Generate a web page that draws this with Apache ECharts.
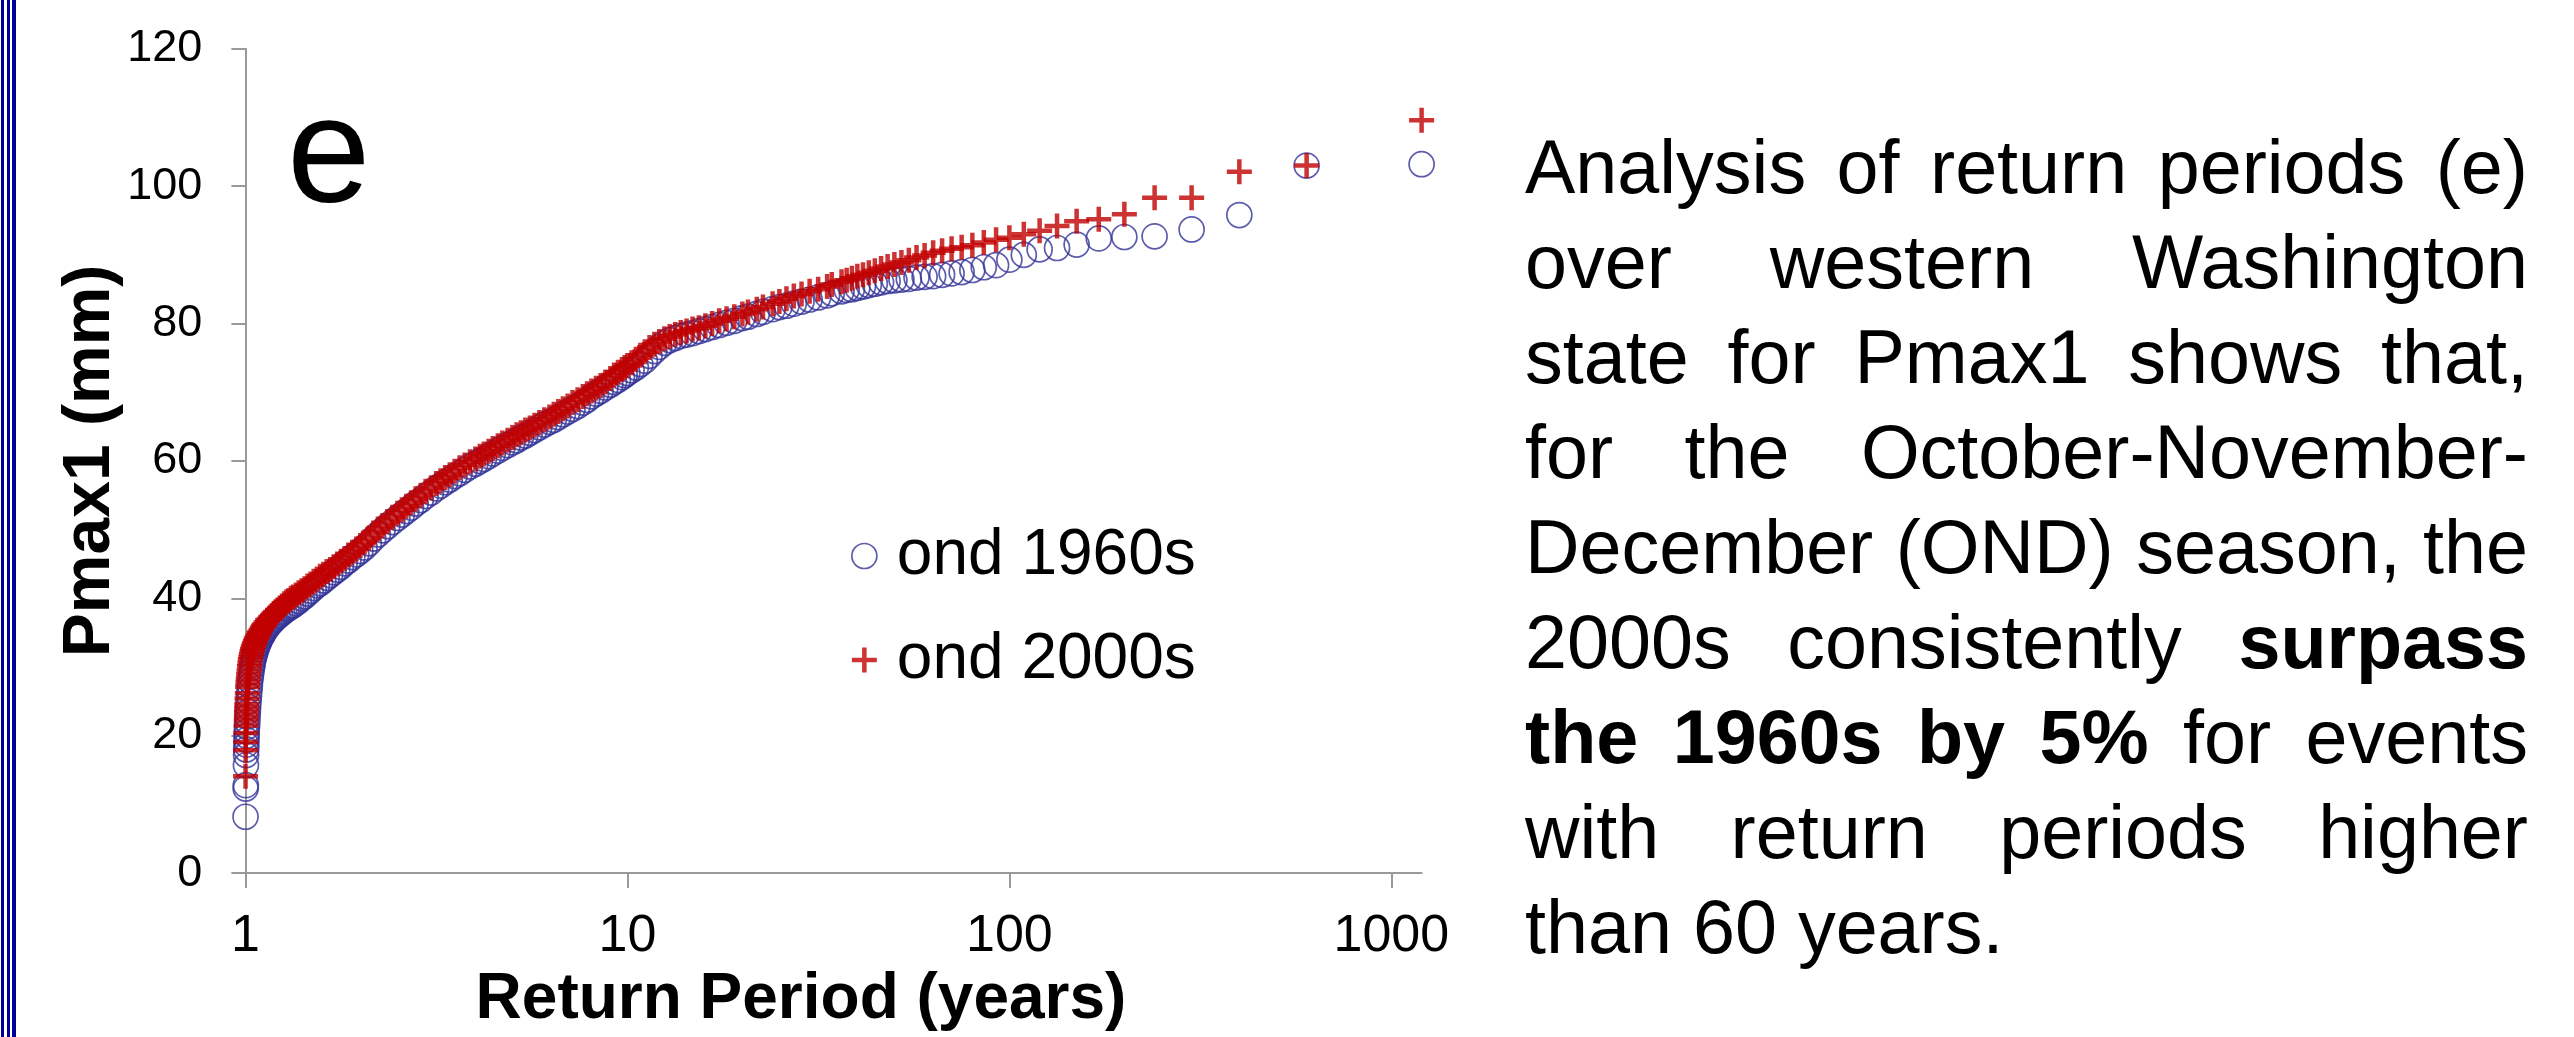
<!DOCTYPE html>
<html>
<head>
<meta charset="utf-8">
<script src="https://cdn.jsdelivr.net/npm/echarts@6/dist/echarts.min.js"></script>
<style>
html,body{margin:0;padding:0;background:#ffffff;}
#chart{width:2574px;height:1037px;}
</style>
</head>
<body>
<div id="chart"></div>
<script>
// ---- data ----
const returnPeriod = [
  1.0008,1.0017,1.0025,1.0033,1.0042,1.0050,1.0059,1.0067,1.0076,1.0084,
  1.0101,1.0118,1.0135,1.0152,1.0169,1.0195,1.0221,1.0248,1.0274,1.030,
  1.0336,1.0372,1.0408,1.0444,1.048,1.0526,1.0573,1.0619,1.0676,1.0733,
  1.0791,1.085,1.0909,1.0989,1.107,1.1152,1.1236,1.1321,1.1429,1.1538,
  1.165,1.1765,1.1881,1.2,1.2146,1.2308,1.2474,1.2632,1.2807,1.2973,
  1.3158,1.3333,1.3559,1.3793,1.4035,1.4286,1.4545,1.4815,1.5094,1.5385,
  1.5686,1.6,1.6327,1.6667,1.7021,1.7391,1.7778,1.8182,1.8605,1.9048,
  1.9512,2.0,2.0513,2.1053,2.1622,2.2222,2.2857,2.3529,2.4242,2.5,
  2.5696,2.6374,2.7149,2.7907,2.8777,2.963,3.0612,3.1579,3.2432,3.3333,
  3.4286,3.5294,3.6364,3.75,3.871,4.0,4.1096,4.2105,4.3321,4.4444,
  4.5802,4.7059,4.8583,5.0,5.1282,5.2632,5.4054,5.5556,5.7143,5.8824,
  6.0606,6.25,6.4171,6.5934,6.7797,6.9767,7.1856,7.4074,7.6433,7.8431,
  8.0537,8.2759,8.5106,8.7591,9.0226,9.2308,9.4488,9.6774,9.8361,10.0,
  10.256,10.526,10.811,11.111,11.429,11.765,12.121,12.5,12.903,13.333,
  13.793,14.286,14.815,15.385,16.0,16.667,17.391,18.182,19.048,20.0,
  20.69,21.818,22.642,24.0,25.0,26.087,27.273,28.571,30.0,31.579,
  33.333,34.286,36.364,37.5,38.71,40.0,41.38,42.86,44.44,46.15,
  48.0,50.0,52.17,54.55,57.14,60.0,63.16,66.67,70.59,75.0,
  80.0,85.71,92.31,100.0,109.1,120.0,133.3,150.0,171.4,200.0,
  240.0,300.0,400.0,600.0,1200.0
];
const pmax1960s = [
  8.2,12.3,12.8,15.7,17.2,18.0,18.7,19.4,20.0,20.6,
  21.3,22.0,22.8,23.5,24.2,25.0,25.8,26.6,27.3,28.0,
  28.7,29.3,29.9,30.4,30.9,31.4,31.8,32.2,32.6,33.0,
  33.3,33.6,33.9,34.3,34.6,34.9,35.2,35.5,35.8,36.1,
  36.4,36.6,36.9,37.1,37.4,37.6,37.9,38.1,38.4,38.6,
  38.8,39.0,39.3,39.6,40.0,40.3,40.7,41.1,41.5,41.9,
  42.2,42.6,43.0,43.4,43.8,44.2,44.6,45.1,45.5,46.0,
  46.4,46.9,47.4,48.0,48.7,49.3,49.9,50.5,51.1,51.7,
  52.2,52.7,53.2,53.8,54.3,54.9,55.4,56.0,56.4,56.9,
  57.3,57.8,58.2,58.7,59.2,59.6,60.0,60.3,60.7,61.1,
  61.5,61.9,62.3,62.7,63.0,63.4,63.7,64.1,64.5,64.9,
  65.3,65.7,66.0,66.4,66.8,67.2,67.6,68.0,68.5,68.9,
  69.4,69.8,70.2,70.7,71.1,71.5,71.8,72.2,72.5,72.8,
  73.2,73.6,74.1,74.6,75.3,76.0,76.6,77.2,77.6,77.9,
  78.2,78.4,78.6,78.9,79.2,79.5,79.8,80.1,80.4,80.8,
  81.0,81.4,81.7,82.1,82.4,82.6,82.9,83.2,83.5,83.8,
  84.1,84.4,84.7,84.9,85.0,85.2,85.4,85.6,85.8,86.0,
  86.2,86.3,86.4,86.5,86.7,86.8,86.9,87.1,87.3,87.5,
  87.8,88.2,88.5,89.3,90.0,90.8,91.0,91.5,92.4,92.6,
  92.7,93.7,95.8,103.0,103.2
];
const pmax2000s = [
  14.1,17.9,19.1,20.4,21.5,22.2,22.8,23.4,24.0,24.6,
  25.4,26.2,27.1,27.7,28.3,28.9,29.5,30.1,30.6,31.1,
  31.5,31.9,32.3,32.6,32.9,33.2,33.5,33.8,34.1,34.3,
  34.6,34.9,35.1,35.4,35.7,36.0,36.2,36.5,36.8,37.0,
  37.3,37.5,37.8,38.0,38.3,38.6,38.9,39.2,39.5,39.7,
  40.0,40.2,40.5,40.8,41.1,41.4,41.8,42.1,42.5,42.8,
  43.2,43.5,43.9,44.2,44.6,45.0,45.4,45.8,46.3,46.7,
  47.2,47.7,48.2,48.8,49.5,50.1,50.6,51.2,51.8,52.4,
  52.9,53.4,53.9,54.5,55.0,55.6,56.1,56.7,57.1,57.6,
  58.0,58.5,59.0,59.4,59.9,60.3,60.7,61.0,61.4,61.8,
  62.2,62.6,63.0,63.4,63.8,64.1,64.5,64.8,65.2,65.6,
  66.0,66.4,66.8,67.2,67.6,68.0,68.5,68.9,69.4,69.8,
  70.2,70.6,71.0,71.5,72.0,72.5,72.9,73.3,73.6,73.9,
  74.3,74.8,75.4,75.9,76.5,77.0,77.4,77.8,78.1,78.4,
  78.7,78.9,79.2,79.4,79.7,80.0,80.4,80.7,81.0,81.4,
  81.7,82.1,82.4,82.9,83.2,83.6,84.0,84.3,84.7,85.0,
  85.4,85.7,86.1,86.3,86.6,86.9,87.1,87.4,87.7,88.0,
  88.3,88.6,88.9,89.2,89.6,89.9,90.3,90.6,90.9,91.1,
  91.4,91.8,92.2,92.5,93.0,93.5,94.2,94.9,95.2,95.9,
  98.3,98.3,102.1,103.0,109.6
];
const seriesNames = ['ond 1960s', 'ond 2000s'];
const xAxisTitle = 'Return Period (years)';
const yAxisTitle = 'Pmax1 (mm)';
const panelLetter = 'e';
// paragraph lines: [word, bold]
const paragraph = [
  [['Analysis',0],['of',0],['return',0],['periods',0],['(e)',0]],
  [['over',0],['western',0],['Washington',0]],
  [['state',0],['for',0],['Pmax1',0],['shows',0],['that,',0]],
  [['for',0],['the',0],['October-November-',0]],
  [['December',0],['(OND)',0],['season,',0],['the',0]],
  [['2000s',0],['consistently',0],['surpass',1]],
  [['the',1],['1960s',1],['by',1],['5%',1],['for',0],['events',0]],
  [['with',0],['return',0],['periods',0],['higher',0]],
  [['than',0],['60',0],['years.',0]]
];

// ---- styling / layout ----
const FF = '"Liberation Sans", Arial, Helvetica, sans-serif';
const BLUE = '#333399';
const RED = '#C00000';
const AXIS = '#9a9a9a';
const PLUS = 'path://M-0.09,-0.5 L0.09,-0.5 L0.09,-0.09 L0.5,-0.09 L0.5,0.09 L0.09,0.09 L0.09,0.5 L-0.09,0.5 L-0.09,0.09 L-0.5,0.09 L-0.5,-0.09 L-0.09,-0.09 Z';

const GRID = {left: 245.4, top: 48.8, right: 2574 - 1421.6, bottom: 1037 - 875};

// paragraph layout (justified)
const PFS = 75.5, PX0 = 1525, PX1 = 2528, PY0 = 196, PLH = 95;
const mctx = document.createElement('canvas').getContext('2d');
function tw(t, b) { mctx.font = (b ? 'bold ' : 'normal ') + PFS + 'px ' + FF; return mctx.measureText(t).width; }
const graphicEls = [];
paragraph.forEach(function (line, i) {
  const widths = line.map(function (w) { return tw(w[0], w[1]); });
  const sum = widths.reduce(function (a, b) { return a + b; }, 0);
  const last = i === paragraph.length - 1;
  const gap = last ? tw(' ', 0) : (PX1 - PX0 - sum) / (line.length - 1);
  let x = PX0;
  const base = PY0 + i * PLH;
  line.forEach(function (w, j) {
    graphicEls.push({
      type: 'text', x: x, y: base - 0.31 * PFS, silent: true,
      style: {text: w[0], fontSize: PFS, fontFamily: FF, fontWeight: w[1] ? 'bold' : 'normal',
              fill: '#000', align: 'left', verticalAlign: 'middle'}
    });
    x += widths[j] + gap;
  });
});
// panel letter
graphicEls.push({type: 'text', x: 287, y: 207 - 0.31 * 150, silent: true,
  style: {text: panelLetter, fontSize: 150, fontFamily: FF, fill: '#000', align: 'left', verticalAlign: 'middle'}});
// slide border on the left
[[1,3],[7,3],[12,4]].forEach(function (r) {
  graphicEls.push({type: 'rect', silent: true, shape: {x: r[0], y: 0, width: r[1], height: 1037},
    style: {fill: '#000099'}});
});

const chart = echarts.init(document.getElementById('chart'), null, {renderer: 'canvas'});
chart.setOption({
  animation: false,
  backgroundColor: '#ffffff',
  grid: GRID,
  legend: {
    orient: 'vertical', left: 846, top: 519, itemWidth: 25, itemHeight: 25, itemGap: 40,
    textStyle: {fontSize: 64, color: '#000', fontFamily: FF, padding: [0, 0, 0, 15]},
    data: [
      {name: seriesNames[0], icon: 'circle', itemStyle: {color: 'rgba(0,0,0,0)', borderColor: BLUE, borderWidth: 1.7}},
      {name: seriesNames[1], icon: PLUS, itemStyle: {color: RED, borderWidth: 0}}
    ]
  },
  xAxis: {
    type: 'log', logBase: 10, min: 1, max: 1200,
    name: xAxisTitle, nameLocation: 'middle', nameGap: 86,
    nameTextStyle: {fontSize: 64, fontWeight: 'bold', color: '#000', fontFamily: FF, padding: [0, 65, 0, 0]},
    axisLine: {show: true, lineStyle: {color: AXIS, width: 2}},
    axisTick: {show: true, length: 15, lineStyle: {color: AXIS, width: 2}},
    axisLabel: {fontSize: 52, color: '#000', fontFamily: FF, margin: 38, showMaxLabel: false,
      formatter: function (v) { return String(Math.round(v)); }},
    splitLine: {show: false},
    minorTick: {show: false}
  },
  yAxis: {
    type: 'value', min: 0, max: 120, interval: 20,
    name: yAxisTitle, nameLocation: 'middle', nameGap: 110,
    nameTextStyle: {fontSize: 66, fontWeight: 'bold', color: '#000', fontFamily: FF},
    axisLine: {show: true, lineStyle: {color: AXIS, width: 2}},
    axisTick: {show: true, length: 14, lineStyle: {color: AXIS, width: 2}},
    axisLabel: {fontSize: 45, color: '#000', fontFamily: FF, margin: 43},
    splitLine: {show: false}
  },
  series: [
    {
      name: seriesNames[0], type: 'scatter', symbol: 'circle', symbolSize: 25, z: 2,
      itemStyle: {color: 'rgba(0,0,0,0)', borderColor: BLUE, borderWidth: 1.7},
      data: returnPeriod.map(function (t, i) { return [t, pmax1960s[i]]; })
    },
    {
      name: seriesNames[1], type: 'scatter', symbol: PLUS, symbolSize: 25, z: 3,
      itemStyle: {color: RED},
      data: returnPeriod.map(function (t, i) { return [t, pmax2000s[i]]; })
    }
  ],
  graphic: {elements: graphicEls}
});
</script>
</body>
</html>
